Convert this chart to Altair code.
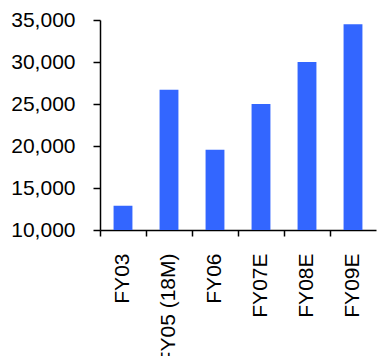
import altair as alt
import pandas as pd

# Fiscal years and values (FY05 covers an 18-month period)
years = ["FY03", "FY05 (18M)", "FY06", "FY07E", "FY08E", "FY09E"]
values = [12900, 26700, 19550, 25000, 30000, 34500]
y_ticks = [10000, 15000, 20000, 25000, 30000, 35000]

df = pd.DataFrame({"year": years, "value": values})

FONT = "Liberation Sans"

bars = alt.Chart(df).mark_bar(
    color="#3366FF", width=alt.RelativeBandSize(0.41), clip=True
).encode(
    x=alt.X(
        "year:N",
        sort=years,
        title=None,
        scale=alt.Scale(paddingInner=0, paddingOuter=0),
        axis=alt.Axis(
            bandPosition=0,
            labelAngle=270,
            labelAlign="right",
            labelBaseline="middle",
            labelFont=FONT,
            labelFontSize=21,
            labelColor="#000000",
            labelPadding=17,
            tickSize=6,
            tickColor="#000000",
            tickWidth=1.5,
            domainColor="#000000",
            domainWidth=1.5,
            labelOverlap=False,
        ),
    ),
    y=alt.Y(
        "value:Q",
        title=None,
        scale=alt.Scale(domain=[10000, 35000], nice=False, zero=False),
        axis=alt.Axis(
            values=y_ticks,
            format=",d",
            grid=False,
            labelFont=FONT,
            labelFontSize=21,
            labelColor="#000000",
            labelPadding=18,
            tickSize=7,
            tickColor="#000000",
            tickWidth=1.5,
            domainColor="#000000",
            domainWidth=1.5,
        ),
    ),
)

chart = bars.properties(
    width=276,
    height=210,
    padding={"left": 100, "top": 20, "right": 2, "bottom": 126},
    autosize=alt.AutoSizeParams(type="none"),
).configure_view(stroke=None)

chart.save("out.html", embed_options={"renderer": "svg", "actions": False})
